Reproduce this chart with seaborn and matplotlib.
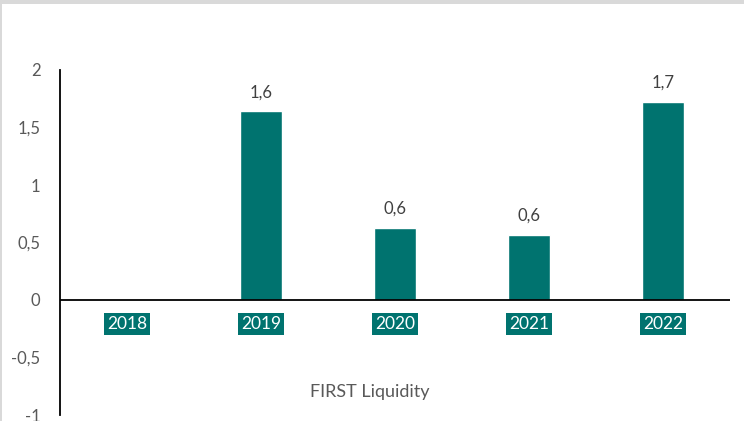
import matplotlib
matplotlib.use("Agg")
import matplotlib.pyplot as plt
import seaborn as sns
import pandas as pd
from matplotlib.patches import Rectangle

years = ["2018", "2019", "2020", "2021", "2022"]
values = [0.0, 1.64, 0.63, 0.565, 1.72]
bar_labels = ["", "1,6", "0,6", "0,6", "1,7"]
yticks = [-1, -0.5, 0, 0.5, 1, 1.5, 2]
ytick_labels = ["-1", "-0,5", "0", "0,5", "1", "1,5", "2"]
title = "FIRST Liquidity"

sns.set_theme(style="white")
plt.rcParams['font.family'] = ['Lato', 'DejaVu Sans']

teal = "#00736F"
W, H = 744, 421
fig = plt.figure(figsize=(W / 100, H / 100), dpi=100)
ax = fig.add_axes([60 / W, (H - 415) / H, (730 - 60) / W, (415 - 70) / H])

df = pd.DataFrame({"year": years, "value": values})
sns.barplot(data=df, x="year", y="value", order=years, color=teal,
            saturation=1, width=0.31, ax=ax)

ax.set_ylim(-1, 2)
ax.set_xlim(-0.5, len(years) - 0.5)
ax.set_yticks(yticks)
ax.set_yticklabels(ytick_labels)
ax.tick_params(axis='y', length=0, pad=14, labelsize=12, labelcolor="#595959")
ax.set_xticks([])
ax.set_xlabel("")
ax.set_ylabel("")
for s in ["top", "right", "bottom"]:
    ax.spines[s].set_visible(False)
ax.spines["left"].set_color("black")
ax.spines["left"].set_linewidth(1.3)
ax.axhline(0, color="black", lw=1.3, zorder=3)

for i, (v, lab) in enumerate(zip(values, bar_labels)):
    if lab:
        ax.annotate(lab, (i, v), xytext=(0, 8), textcoords="offset points",
                    ha="center", va="bottom", fontsize=12, color="#404040")
    ax.annotate(years[i], (i, 0), xytext=(0, -17.5), textcoords="offset points",
                ha="center", va="center", fontsize=12.5, color="white",
                bbox=dict(boxstyle="square,pad=0.18", fc=teal, ec="none"))

fig.text(370 / W, 1 - 392 / H, title, ha="center", va="center",
         fontsize=13, color="#595959")

# top grey band and left border
fig.patches.append(Rectangle((0, 1 - 4 / H), 1, 4 / H, transform=fig.transFigure,
                             fc="#d9d9d9", ec="none"))
fig.patches.append(Rectangle((0, 0), 1.5 / W, 1, transform=fig.transFigure,
                             fc="#d9d9d9", ec="none"))

fig.savefig("out.png", dpi=100)
